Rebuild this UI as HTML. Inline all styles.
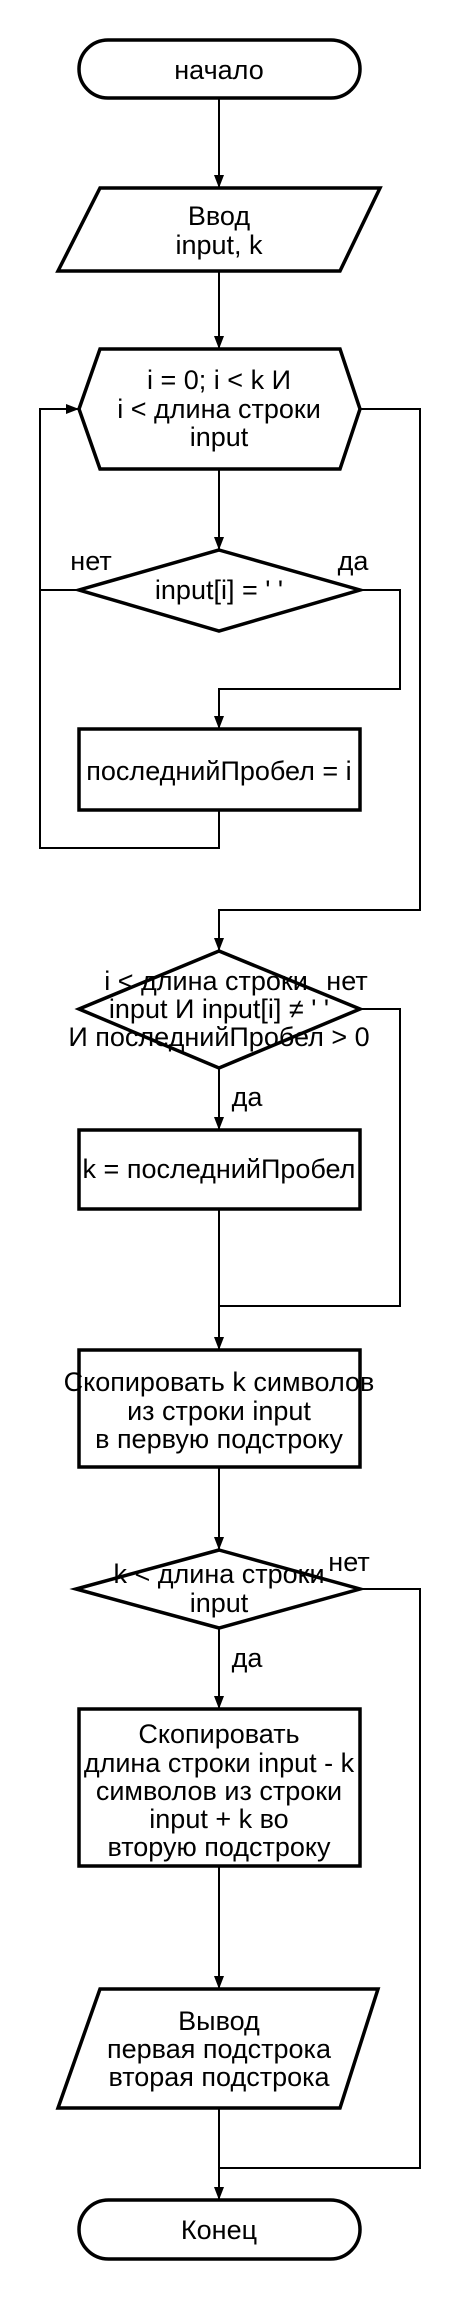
<!DOCTYPE html>
<html><head><meta charset="utf-8"><style>html,body{margin:0;padding:0;background:#fff}svg{display:block}</style></head>
<body>
<svg width="460" height="2300" viewBox="0 0 460 2300" xmlns="http://www.w3.org/2000/svg" font-family="Liberation Sans, Arial, sans-serif" font-size="27">
<g fill="none" stroke="#000" stroke-width="2">
<path d="M219,98 V188"/><path d="M219,271 V349"/><path d="M219,469 V550"/>
<path d="M79,590 H40 V409 H79"/>
<path d="M40,590 V848 H219 V810"/>
<path d="M360,590 H400 V689 H219 V729"/>
<path d="M360,409 H420 V910 H219 V951"/>
<path d="M219,1068 V1130"/>
<path d="M360,1009 H400 V1306 H219"/>
<path d="M219,1209 V1350"/>
<path d="M219,1467 V1550"/>
<path d="M360,1589 H420 V2168 H219"/>
<path d="M219,1628 V1709"/>
<path d="M219,1866 V1989"/>
<path d="M219,2108 V2200"/>
</g>
<g fill="#000">
<path d="M214,175 L224,175 L219,188 z"/>
<path d="M214,336 L224,336 L219,349 z"/>
<path d="M214,537 L224,537 L219,550 z"/>
<path d="M66,404 L66,414 L79,409 z"/>
<path d="M214,716 L224,716 L219,729 z"/>
<path d="M214,938 L224,938 L219,951 z"/>
<path d="M214,1117 L224,1117 L219,1130 z"/>
<path d="M214,1337 L224,1337 L219,1350 z"/>
<path d="M214,1537 L224,1537 L219,1550 z"/>
<path d="M214,1696 L224,1696 L219,1709 z"/>
<path d="M214,1976 L224,1976 L219,1989 z"/>
<path d="M214,2187 L224,2187 L219,2200 z"/>
</g>
<g fill="#fff" stroke="#000" stroke-width="3.5">
<rect x="79" y="40" width="281" height="58" rx="29"/>
<path d="M100,188 H380 L340,271 H58 z"/>
<path d="M100,349 H340 L360,409 L340,469 H100 L79,409 z"/>
<path d="M219,550 L360,590 L219,631 L79,590 z"/>
<rect x="79" y="729" width="281" height="81"/>
<path d="M219,951 L360,1009 L219,1068 L79,1009 z"/>
<rect x="79" y="1130" width="281" height="79"/>
<rect x="79" y="1350" width="281" height="117"/>
<path d="M219,1550 L360,1589 L219,1628 L76,1589 z"/>
<rect x="79" y="1709" width="281" height="157"/>
<path d="M100,1989 H378 L340,2108 H58 z"/>
<rect x="79" y="2200" width="281" height="59" rx="29.5"/>
</g>
<g fill="#000" text-anchor="middle">
<text x="219" y="79">начало</text>
<text x="219" y="225">Ввод</text><text x="219" y="254">input, k</text>
<text x="219" y="389">i = 0; i &lt; k И</text><text x="219" y="418">i &lt; длина строки</text><text x="219" y="446">input</text>
<text x="219" y="599">input[i] = ' '</text>
<text x="91" y="570">нет</text><text x="353" y="570">да</text>
<text x="219" y="780">последнийПробел = i</text>
<text x="206" y="990">i &lt; длина строки</text><text x="347" y="990">нет</text>
<text x="219" y="1018">input И input[i] ≠ ' '</text><text x="219" y="1046">И последнийПробел &gt; 0</text>
<text x="247" y="1106">да</text>
<text x="219" y="1178">k = последнийПробел</text>
<text x="219" y="1391">Скопировать k символов</text><text x="219" y="1420">из строки input</text><text x="219" y="1448">в первую подстроку</text>
<text x="219" y="1583">k &lt; длина строки</text><text x="219" y="1612">input</text><text x="349" y="1571">нет</text>
<text x="247" y="1667">да</text>
<text x="219" y="1743">Скопировать</text><text x="219" y="1772">длина строки input - k</text><text x="219" y="1800">символов из строки</text><text x="219" y="1828">input + k во</text><text x="219" y="1856">вторую подстроку</text>
<text x="219" y="2030">Вывод</text><text x="219" y="2058">первая подстрока</text><text x="219" y="2086">вторая подстрока</text>
<text x="219" y="2239">Конец</text>
</g>
</svg>
</body></html>
